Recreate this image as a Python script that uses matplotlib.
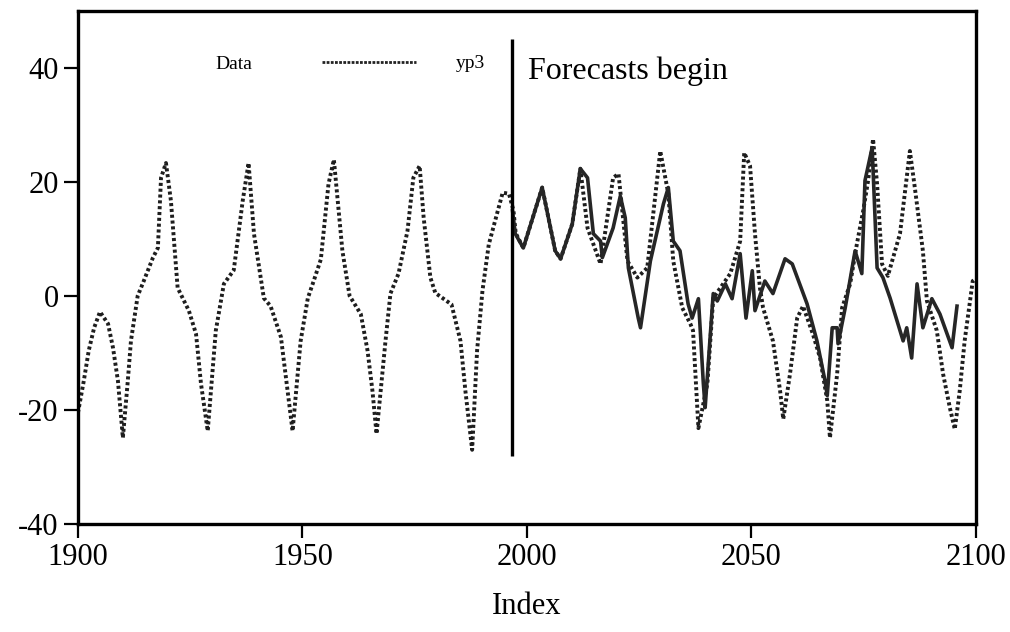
#!/usr/bin/env python3
# Data vs yp3 forecast chart, redrawn from a scanned figure.
import matplotlib
matplotlib.use('Agg')
import matplotlib.pyplot as plt
from matplotlib.lines import Line2D

data_years = [1900, 1901.3, 1902.4, 1903.6, 1904.9, 1906.7, 1907.8, 1908.9, 1910,
              1911.1, 1911.8, 1913.3, 1914.5, 1916.7, 1917.8, 1918.5, 1919.6, 1920.7,
              1922.2, 1924.7, 1926.3, 1927.4, 1928.9, 1930.7, 1932.5, 1934.7, 1936.7,
              1938.0, 1939.2, 1941.4, 1942.9, 1945.2, 1946.7, 1947.8, 1949.6, 1951.2,
              1952.5, 1954.1, 1955.8, 1957.0, 1958.9, 1960.5, 1963.0, 1964.5, 1965.6,
              1966.5, 1968.5, 1969.6, 1971.4, 1973.4, 1974.7, 1976.1, 1977.0, 1978.5,
              1979.6, 1983.2, 1985.2, 1986.3, 1987.8, 1988.9, 1990.1, 1991.5, 1994.6,
              1996.0, 1997.0, 1997.5, 1999.2, 2003.4, 2006.3, 2007.5, 2010.1, 2011.9,
              2013.5, 2016.4, 2019.2, 2020.4, 2022.4, 2024.6, 2026.8, 2029.7, 2031.5,
              2032.6, 2034.6, 2036.4, 2037.0, 2038.2, 2040.2, 2041.5, 2045.3, 2047.5,
              2048.4, 2049.7, 2050.8, 2051.9, 2052.6, 2054.8, 2056.4, 2057.1, 2058.6,
              2060.2, 2061.5, 2063.7, 2065.3, 2066.9, 2067.5, 2069.1, 2070.2, 2072.0,
              2073.5, 2074.9, 2076.0, 2077.1, 2078.0, 2079.1, 2080.4, 2083.1, 2085.3,
              2086.4, 2088.2, 2089.1, 2091.3, 2092.7, 2094.2, 2095.3, 2096.4, 2097.5,
              2099.3, 2100]
data_values = [-20.5, -14.9, -9.6, -5.6, -2.8, -4.9, -9.1, -14.9, -24.9,
               -14.9, -7.9, 0.0, 2.3, 6.7, 8.4, 20.7, 23.3, 16.7,
               1.4, -2.6, -6.7, -15.4, -23.7, -6.1, 2.1, 4.5, 16.7,
               23.3, 10.9, -0.4, -1.8, -7.2, -16.7, -23.7, -7.9, -0.4,
               2.6, 6.4, 19.6, 23.9, 7.9, 0.0, -3.2, -9.6, -16.7,
               -24.2, -7.9, 0.4, 3.9, 11.4, 20.7, 22.8, 13.7, 3.2,
               0.5, -1.5, -7.9, -16.7, -27.0, -9.6, 0.9, 9.0, 18.1,
               17.9, 15.0, 11.0, 8.4, 19.0, 7.9, 6.5, 12.6, 22.3,
               11.9, 5.6, 20.7, 21.4, 6.1, 3.2, 4.9, 25.4, 17.9,
               6.1, -2.1, -4.9, -6.1, -23.2, -15.4, -0.4, 3.9, 9.6,
               25.1, 22.8, 10.9, 1.4, -2.1, -7.9, -16.7, -21.6, -13.7,
               -3.9, -1.8, -6.7, -10.9, -18.4, -24.9, -13.7, -2.1, 2.1,
               9.1, 14.9, 20.2, 27.5, 19.6, 5.6, 3.5, 10.9, 25.4,
               19.0, 7.9, -0.9, -6.1, -13.7, -19.6, -23.4, -16.7, -7.9,
               2.6, 3.0]

# Forecast series ("yp3", solid)
yp3_years = [1996.8, 1997.4, 1999.2, 2003.4, 2006.3, 2007.5, 2010.1, 2011.9, 2013.5,
             2014.8, 2016.4, 2016.8, 2019.2, 2020.8, 2021.9, 2022.6, 2024.8, 2025.3,
             2027.5, 2030.4, 2031.5, 2032.6, 2034.1, 2035.9, 2036.8, 2038.2, 2039.3,
             2039.7, 2041.5, 2042.4, 2044.2, 2045.7, 2047.5, 2048.8, 2050.2, 2050.8,
             2053.0, 2054.8, 2057.5, 2059.1, 2062.4, 2064.6, 2066.4, 2066.9, 2068.0,
             2069.1, 2069.3, 2070.9, 2073.1, 2074.6, 2075.3, 2076.9, 2078.0, 2079.3,
             2080.9, 2083.8, 2084.6, 2085.7, 2086.9, 2088.2, 2090.2, 2092.0, 2094.7,
             2095.8]
yp3_values = [14.9, 10.9, 8.4, 19.0, 7.9, 6.5, 12.6, 22.3, 20.7,
              10.9, 9.6, 6.7, 11.9, 17.5, 13.7, 4.9, -3.9, -5.6,
              6.1, 16.1, 19.0, 9.6, 7.9, -1.4, -3.9, -0.5, -15.4,
              -19.6, 0.4, -0.9, 2.1, -0.5, 7.4, -3.9, 4.4, -2.6,
              2.6, 0.4, 6.5, 5.6, -1.4, -7.9, -14.9, -17.5, -5.6,
              -5.6, -8.4, -2.1, 7.9, 3.9, 20.2, 26.0, 4.9, 3.2,
              -0.4, -7.9, -5.6, -10.9, 2.1, -5.6, -0.5, -3.2, -9.1,
              -1.8]

forecast_start = 1996.6
x_ticks = [1900, 1950, 2000, 2050, 2100]
y_ticks = [-40, -20, 0, 20, 40]

plt.rcParams['font.family'] = ['Liberation Serif', 'DejaVu Serif']
plt.rcParams['axes.unicode_minus'] = False

fig = plt.figure(figsize=(10.1, 6.32), dpi=100)
ax = fig.add_axes([0.0772, 0.171, 0.889, 0.812])

ax.plot(data_years, data_values, color='#1e1e1e', lw=2.8,
        linestyle=(0, (0.8, 0.7)), solid_capstyle='butt')
ax.plot(yp3_years, yp3_values, color='#262626', lw=2.6)
ax.vlines(forecast_start, -28, 45, color='black', lw=2.4)

ax.set_xlim(1900, 2100)
ax.set_ylim(-40, 50)
ax.set_xticks(x_ticks)
ax.set_yticks(y_ticks)
ax.tick_params(direction='out', length=10, width=1.6, labelsize=22, pad=4)
for s in ax.spines.values():
    s.set_linewidth(2.4)

ax.set_xlabel('Index', fontsize=22, labelpad=14)

# legend-like labels at the top
ax.text(0.153, 0.895, 'Data', transform=ax.transAxes, fontsize=14,
        ha='left', va='center')
ax.add_line(Line2D([0.272, 0.376], [0.9, 0.9], transform=ax.transAxes,
                   color='#222222', lw=2.0, linestyle=(0, (1, 0.5))))
ax.text(0.421, 0.898, 'yp3', transform=ax.transAxes, fontsize=14,
        ha='left', va='center')
ax.text(0.501, 0.882, 'Forecasts begin', transform=ax.transAxes, fontsize=23,
        ha='left', va='center')

fig.savefig('out.png', dpi=100)
